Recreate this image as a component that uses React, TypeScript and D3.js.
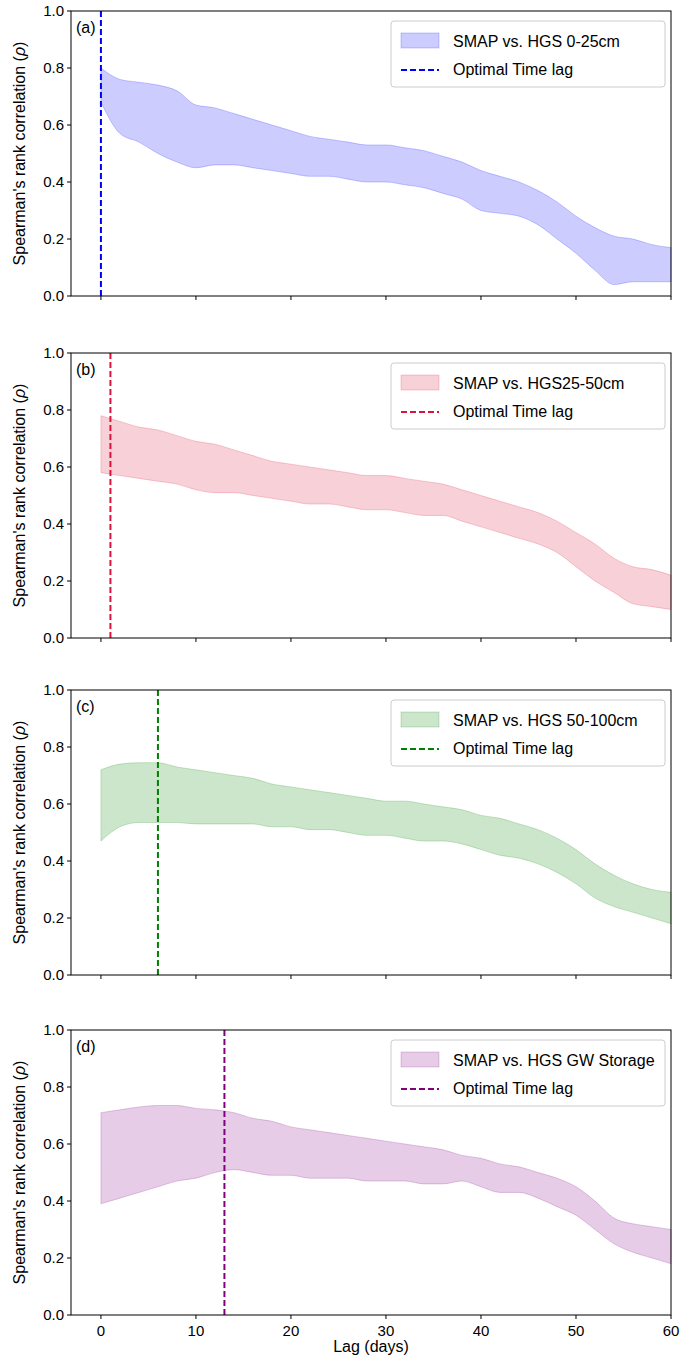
import React from 'react';
import * as d3 from 'd3';

const lags = [0, 2, 4, 6, 8, 10, 12, 14, 16, 18, 20, 22, 24, 26, 28, 30, 32, 34, 36, 38, 40, 42, 44, 46, 48, 50, 52, 54, 56, 58, 60];

const aUpper = [0.80, 0.76, 0.75, 0.74, 0.72, 0.67, 0.66, 0.64, 0.62, 0.60, 0.58, 0.56, 0.55, 0.54, 0.53, 0.53, 0.52, 0.51, 0.49, 0.47, 0.44, 0.42, 0.40, 0.37, 0.33, 0.28, 0.24, 0.21, 0.20, 0.18, 0.17];
const aLower = [0.68, 0.57, 0.54, 0.50, 0.47, 0.45, 0.46, 0.46, 0.45, 0.44, 0.43, 0.42, 0.42, 0.41, 0.40, 0.40, 0.39, 0.38, 0.36, 0.34, 0.30, 0.29, 0.28, 0.25, 0.20, 0.15, 0.09, 0.04, 0.05, 0.05, 0.05];
const bUpper = [0.78, 0.76, 0.74, 0.73, 0.71, 0.69, 0.68, 0.66, 0.64, 0.62, 0.61, 0.60, 0.59, 0.58, 0.57, 0.57, 0.56, 0.55, 0.54, 0.52, 0.50, 0.48, 0.46, 0.44, 0.41, 0.37, 0.33, 0.28, 0.25, 0.24, 0.22];
const bLower = [0.58, 0.57, 0.56, 0.55, 0.54, 0.52, 0.51, 0.51, 0.50, 0.49, 0.48, 0.47, 0.47, 0.46, 0.45, 0.45, 0.44, 0.43, 0.43, 0.41, 0.39, 0.37, 0.35, 0.33, 0.30, 0.25, 0.20, 0.16, 0.12, 0.11, 0.10];
const cUpper = [0.72, 0.74, 0.745, 0.745, 0.73, 0.72, 0.71, 0.70, 0.69, 0.67, 0.66, 0.65, 0.64, 0.63, 0.62, 0.61, 0.61, 0.60, 0.59, 0.58, 0.56, 0.55, 0.53, 0.51, 0.48, 0.44, 0.39, 0.35, 0.32, 0.30, 0.29];
const cLower = [0.47, 0.52, 0.535, 0.535, 0.535, 0.53, 0.53, 0.53, 0.53, 0.52, 0.52, 0.51, 0.51, 0.50, 0.49, 0.49, 0.48, 0.47, 0.47, 0.46, 0.44, 0.42, 0.41, 0.39, 0.36, 0.32, 0.27, 0.24, 0.22, 0.20, 0.18];
const dUpper = [0.71, 0.72, 0.73, 0.735, 0.735, 0.725, 0.72, 0.71, 0.69, 0.68, 0.66, 0.65, 0.64, 0.63, 0.62, 0.61, 0.60, 0.59, 0.58, 0.56, 0.55, 0.53, 0.52, 0.50, 0.48, 0.45, 0.40, 0.34, 0.32, 0.31, 0.30];
const dLower = [0.39, 0.41, 0.43, 0.45, 0.47, 0.48, 0.50, 0.51, 0.50, 0.49, 0.49, 0.48, 0.48, 0.48, 0.47, 0.47, 0.47, 0.46, 0.46, 0.47, 0.45, 0.43, 0.43, 0.41, 0.38, 0.35, 0.30, 0.25, 0.22, 0.20, 0.18];

const panels = [
  { tag: '(a)', label: 'SMAP vs. HGS 0-25cm', color: 'blue', upper: aUpper, lower: aLower, lag: 0 },
  { tag: '(b)', label: 'SMAP vs.  HGS25-50cm', color: 'crimson', upper: bUpper, lower: bLower, lag: 1 },
  { tag: '(c)', label: 'SMAP vs. HGS 50-100cm', color: 'green', upper: cUpper, lower: cLower, lag: 6 },
  { tag: '(d)', label: 'SMAP vs. HGS GW Storage', color: 'purple', upper: dUpper, lower: dLower, lag: 13 },
];
const yTicks = [0, 0.2, 0.4, 0.6, 0.8, 1.0];
const xTicks = [0, 10, 20, 30, 40, 50, 60];

const W = 684, H = 1361;
const left = 71, right = 671;
const tops = [11, 353, 690, 1030];
const ph = 285;
const font = 'Liberation Sans, Arial, sans-serif';

export default function App() {
  const x = d3.scaleLinear().domain([-3.15, 60]).range([left, right]);
  return (
    <svg width={W} height={H} style={{ position: 'absolute', left: 0, top: 0 }} fontFamily={font}>
      <rect width={W} height={H} fill="white" />
      {panels.map((p, i) => {
        const top = tops[i];
        const y = d3.scaleLinear().domain([0, 1]).range([top + ph, top]);
        const pts = lags.map((l, k) => ({ l, u: p.upper[k], d: p.lower[k] }));
        const area = d3.area<any>().x((d) => x(d.l)).y0((d) => y(d.d)).y1((d) => y(d.u)).curve(d3.curveMonotoneX)(pts)!;
        const last = i === 3;
        return (
          <g key={i}>
            <path d={area} fill={p.color} fillOpacity={0.2} stroke={p.color} strokeOpacity={0.2} />
            <line x1={x(p.lag)} x2={x(p.lag)} y1={top} y2={top + ph} stroke={p.color} strokeWidth={2} strokeDasharray="6,3" />
            <rect x={left} y={top} width={right - left} height={ph} fill="none" stroke="black" strokeWidth={1} />
            {yTicks.map((t) => (
              <g key={t}>
                <line x1={left - 4} x2={left} y1={y(t)} y2={y(t)} stroke="black" />
                <text x={left - 7} y={y(t) + 5} textAnchor="end" fontSize={15}>{t.toFixed(1)}</text>
              </g>
            ))}
            {xTicks.map((t) => (
              <g key={t}>
                <line x1={x(t)} x2={x(t)} y1={top + ph} y2={top + ph + 4} stroke="black" />
                {last && <text x={x(t)} y={top + ph + 21} textAnchor="middle" fontSize={15}>{t}</text>}
              </g>
            ))}
            <text x={left + 5} y={top + 22} fontSize={16}>{p.tag}</text>
            <text transform={`translate(25,${top + ph / 2}) rotate(-90)`} textAnchor="middle" fontSize={16}>
              Spearman's rank correlation (<tspan fontStyle="italic">ρ</tspan>)
            </text>
            <g transform={`translate(${right - 280},${top + 10})`}>
              <rect width={274} height={66} rx={3} fill="white" stroke="#ccc" />
              <rect x={10} y={12} width={38} height={15} fill={p.color} fillOpacity={0.2} stroke={p.color} strokeOpacity={0.2} />
              <text x={62} y={26} fontSize={16}>{p.label}</text>
              <line x1={10} x2={48} y1={49} y2={49} stroke={p.color} strokeWidth={2} strokeDasharray="6,3" />
              <text x={62} y={54} fontSize={16}>Optimal Time lag</text>
            </g>
          </g>
        );
      })}
      <text x={(left + right) / 2} y={1352} textAnchor="middle" fontSize={16}>Lag (days)</text>
    </svg>
  );
}
